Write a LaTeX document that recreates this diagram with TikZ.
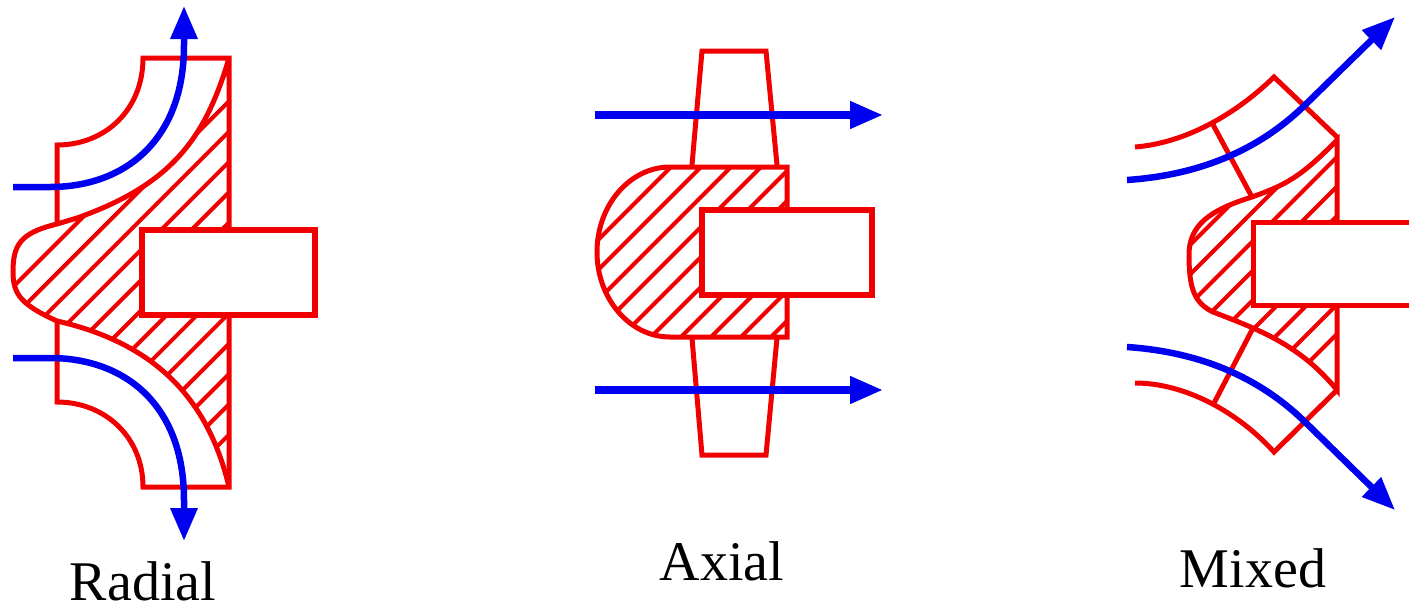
\documentclass[tikz,border=0pt]{standalone}
\usepackage{fontspec}
\setmainfont{Liberation Serif}
\usetikzlibrary{arrows.meta,positioning,calc}
\definecolor{rotorred}{RGB}{240,0,0}
\definecolor{flowblue}{RGB}{0,0,240}
\newcommand{\radialhub}{(229,58) .. controls (205,140) and (170,185) .. (77,218) -- (57,224) .. controls (20,233) and (13,245) .. (13,272) .. controls (13,295) and (22,305) .. (57,321) .. controls (140,340) and (205,385) .. (229,487)}
\newcommand{\axialhub}{(670,167) .. controls (630,167) and (597,205) .. (597,252) .. controls (597,299) and (630,337) .. (670,337) -- (787,337) -- (787,167)}
\newcommand{\mixedhub}{(1337,140) .. controls (1300,178) and (1285,185) .. (1252,197) .. controls (1210,210) and (1189,225) .. (1189,255) .. controls (1189,290) and (1195,303) .. (1213,312) .. controls (1260,330) and (1300,345) .. (1337,390)}
\tikzset{
  casing/.style={draw=rotorred, line width=5pt, line join=miter},
  hatchline/.style={draw=rotorred, line width=4pt},
  shaft/.style={draw=rotorred, line width=5.5pt, fill=white},
  flow/.style={-{Triangle[length=33pt,width=26pt]}, draw=flowblue, line width=6.5pt},
  lbl/.style={anchor=base, inner sep=0pt, font=\fontsize{56}{60}\selectfont},
}
\begin{document}
\begin{tikzpicture}[x=1pt,y=-1pt]
  \useasboundingbox (0,0) rectangle (1409,606);
  % radial
  \draw[casing] (57,224) -- (57,145) .. controls (105,145) and (143,110) .. (143,58) -- (229,58) -- (229,487) -- (143,487)
    .. controls (143,437) and (105,402) .. (57,402) -- (57,320);
  \begin{scope}
    \clip \radialhub -- cycle;
    \foreach \hc in {300,330.3,...,665} \draw[hatchline] (\hc,0) -- (0,\hc);
  \end{scope}
  \draw[casing] \radialhub;
  \draw[shaft] (142,230) rectangle (315,315);
  \draw[flow] (13,187) -- (50,187) .. controls (125,187) and (184,140) .. (184,45) -- (184,6);
  \draw[flow] (13,358) -- (50,358) .. controls (125,358) and (184,405) .. (184,500) -- (184,541);
  \node[lbl] (radial) at (143,600) {Radial};
  % axial
  \draw[casing] (692,165) -- (702,51) -- (766,51) -- (777,165);
  \draw[casing] (692,338) -- (702,455) -- (766,455) -- (777,338);
  \begin{scope}
    \clip \axialhub -- cycle;
    \foreach \hc in {838,868,...,1108} \draw[hatchline] (\hc,0) -- (0,\hc);
  \end{scope}
  \draw[casing] \axialhub -- cycle;
  \draw[shaft] (702,210) rectangle (872,295);
  \draw[flow, line width=7.5pt] (595,115) -- (883,115);
  \draw[flow, line width=7.5pt] (595,390) -- (883,390);
  \node[lbl] (axial) at (722,580) {Axial};
  % mixed
  \draw[casing] (1135,147) .. controls (1185,143) and (1235,115) .. (1274,77) -- (1337,137);
  \draw[casing] (1135,383) .. controls (1185,383) and (1238,412) .. (1274,452) -- (1337,390);
  \draw[casing] (1211,121) -- (1252,197);
  \draw[casing] (1213,405) -- (1252,330);
  \begin{scope}
    \clip \mixedhub -- cycle;
    \foreach \hc in {1435,1464.5,...,1700} \draw[hatchline] (\hc,0) -- (0,\hc);
  \end{scope}
  \draw[casing] \mixedhub -- cycle;
  \path[fill=white] (1253,222) rectangle (1409,305);
  \draw[casing] (1409,222) -- (1253,222) -- (1253,305) -- (1409,305);
  \draw[flow] (1127,180) .. controls (1200,175) and (1258,150) .. (1303,107) -- (1395,17);
  \draw[flow] (1127,347) .. controls (1200,352) and (1258,377) .. (1303,420) -- (1395,510);
  \node[lbl] (mixed) at (1253,587) {Mixed};
\end{tikzpicture}
\end{document}
